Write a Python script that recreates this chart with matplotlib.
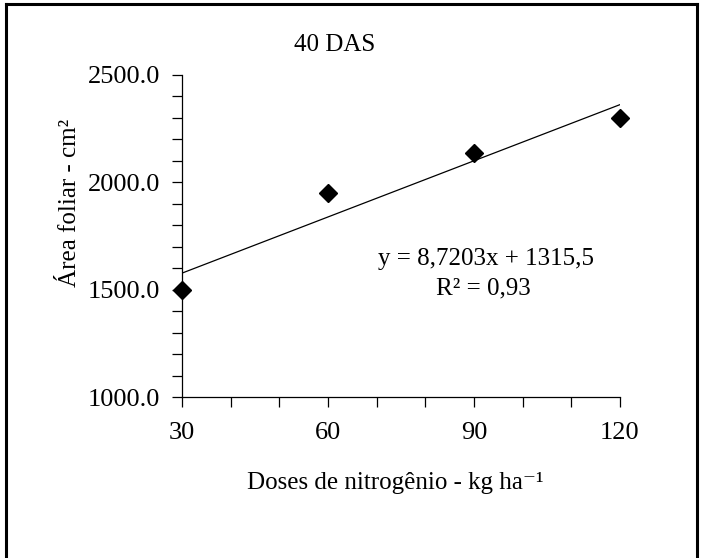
import numpy as np
import matplotlib
matplotlib.use("Agg")
import matplotlib.pyplot as plt
from matplotlib.ticker import MultipleLocator, FormatStrFormatter
from matplotlib.lines import Line2D

plt.rcParams['font.family'] = ['Liberation Serif', 'DejaVu Serif']

# data
doses = [30, 60, 90, 120]
area = [1500, 1948, 2137, 2302]
slope = 8.7203
intercept = 1315.5

fig = plt.figure(figsize=(7.03, 5.58), dpi=100)
ax = fig.add_axes([0.2589, 0.2885, 0.623, 0.5771])

# trend line from the fitted equation
xl = np.array([doses[0], doses[-1]])
ax.plot(xl, slope * xl + intercept, color='black', linewidth=0.9)
ax.plot(doses, area, linestyle='none', marker='D', markersize=9,
        color='black', clip_on=False, zorder=3)

ax.set_xlim(30, 120)
ax.set_ylim(1000, 2500)
ax.xaxis.set_major_locator(MultipleLocator(30))
ax.xaxis.set_minor_locator(MultipleLocator(10))
ax.yaxis.set_major_locator(MultipleLocator(500))
ax.yaxis.set_minor_locator(MultipleLocator(100))
ax.yaxis.set_major_formatter(FormatStrFormatter('%.1f'))

for s in ['top', 'right']:
    ax.spines[s].set_visible(False)
ax.spines['left'].set_linewidth(0.9)
ax.spines['bottom'].set_linewidth(0.9)
ax.tick_params(which='both', direction='out', length=7, width=0.9, labelsize=19)
ax.tick_params(axis='y', pad=9)
ax.tick_params(axis='x', pad=11)

fs = 18
fig.text(335 / 703, 1 - 45 / 558, '40 DAS', ha='center', va='center', fontsize=fs)
fig.text(70 / 703, 1 - 203 / 558, 'Área foliar - cm²', rotation=90,
         ha='center', va='center', fontsize=fs)
fig.text(395 / 703, 1 - 483 / 558, 'Doses de nitrogênio - kg ha⁻¹',
         ha='center', va='center', fontsize=fs)
fig.text(486 / 703, 1 - 259 / 558, 'y = 8,7203x + 1315,5', ha='center', va='center', fontsize=fs)
fig.text(483 / 703, 1 - 288 / 558, 'R² = 0,93', ha='center', va='center', fontsize=fs)

# outer frame (left, top, right)
for xs, ys in [([6 / 703, 6 / 703], [0, 1 - 4 / 558]),
               ([6 / 703, 697 / 703], [1 - 4 / 558, 1 - 4 / 558]),
               ([697 / 703, 697 / 703], [1 - 4 / 558, 0])]:
    fig.add_artist(Line2D(xs, ys, transform=fig.transFigure, color='black', linewidth=2.2))

fig.savefig('out.png', dpi=100)
